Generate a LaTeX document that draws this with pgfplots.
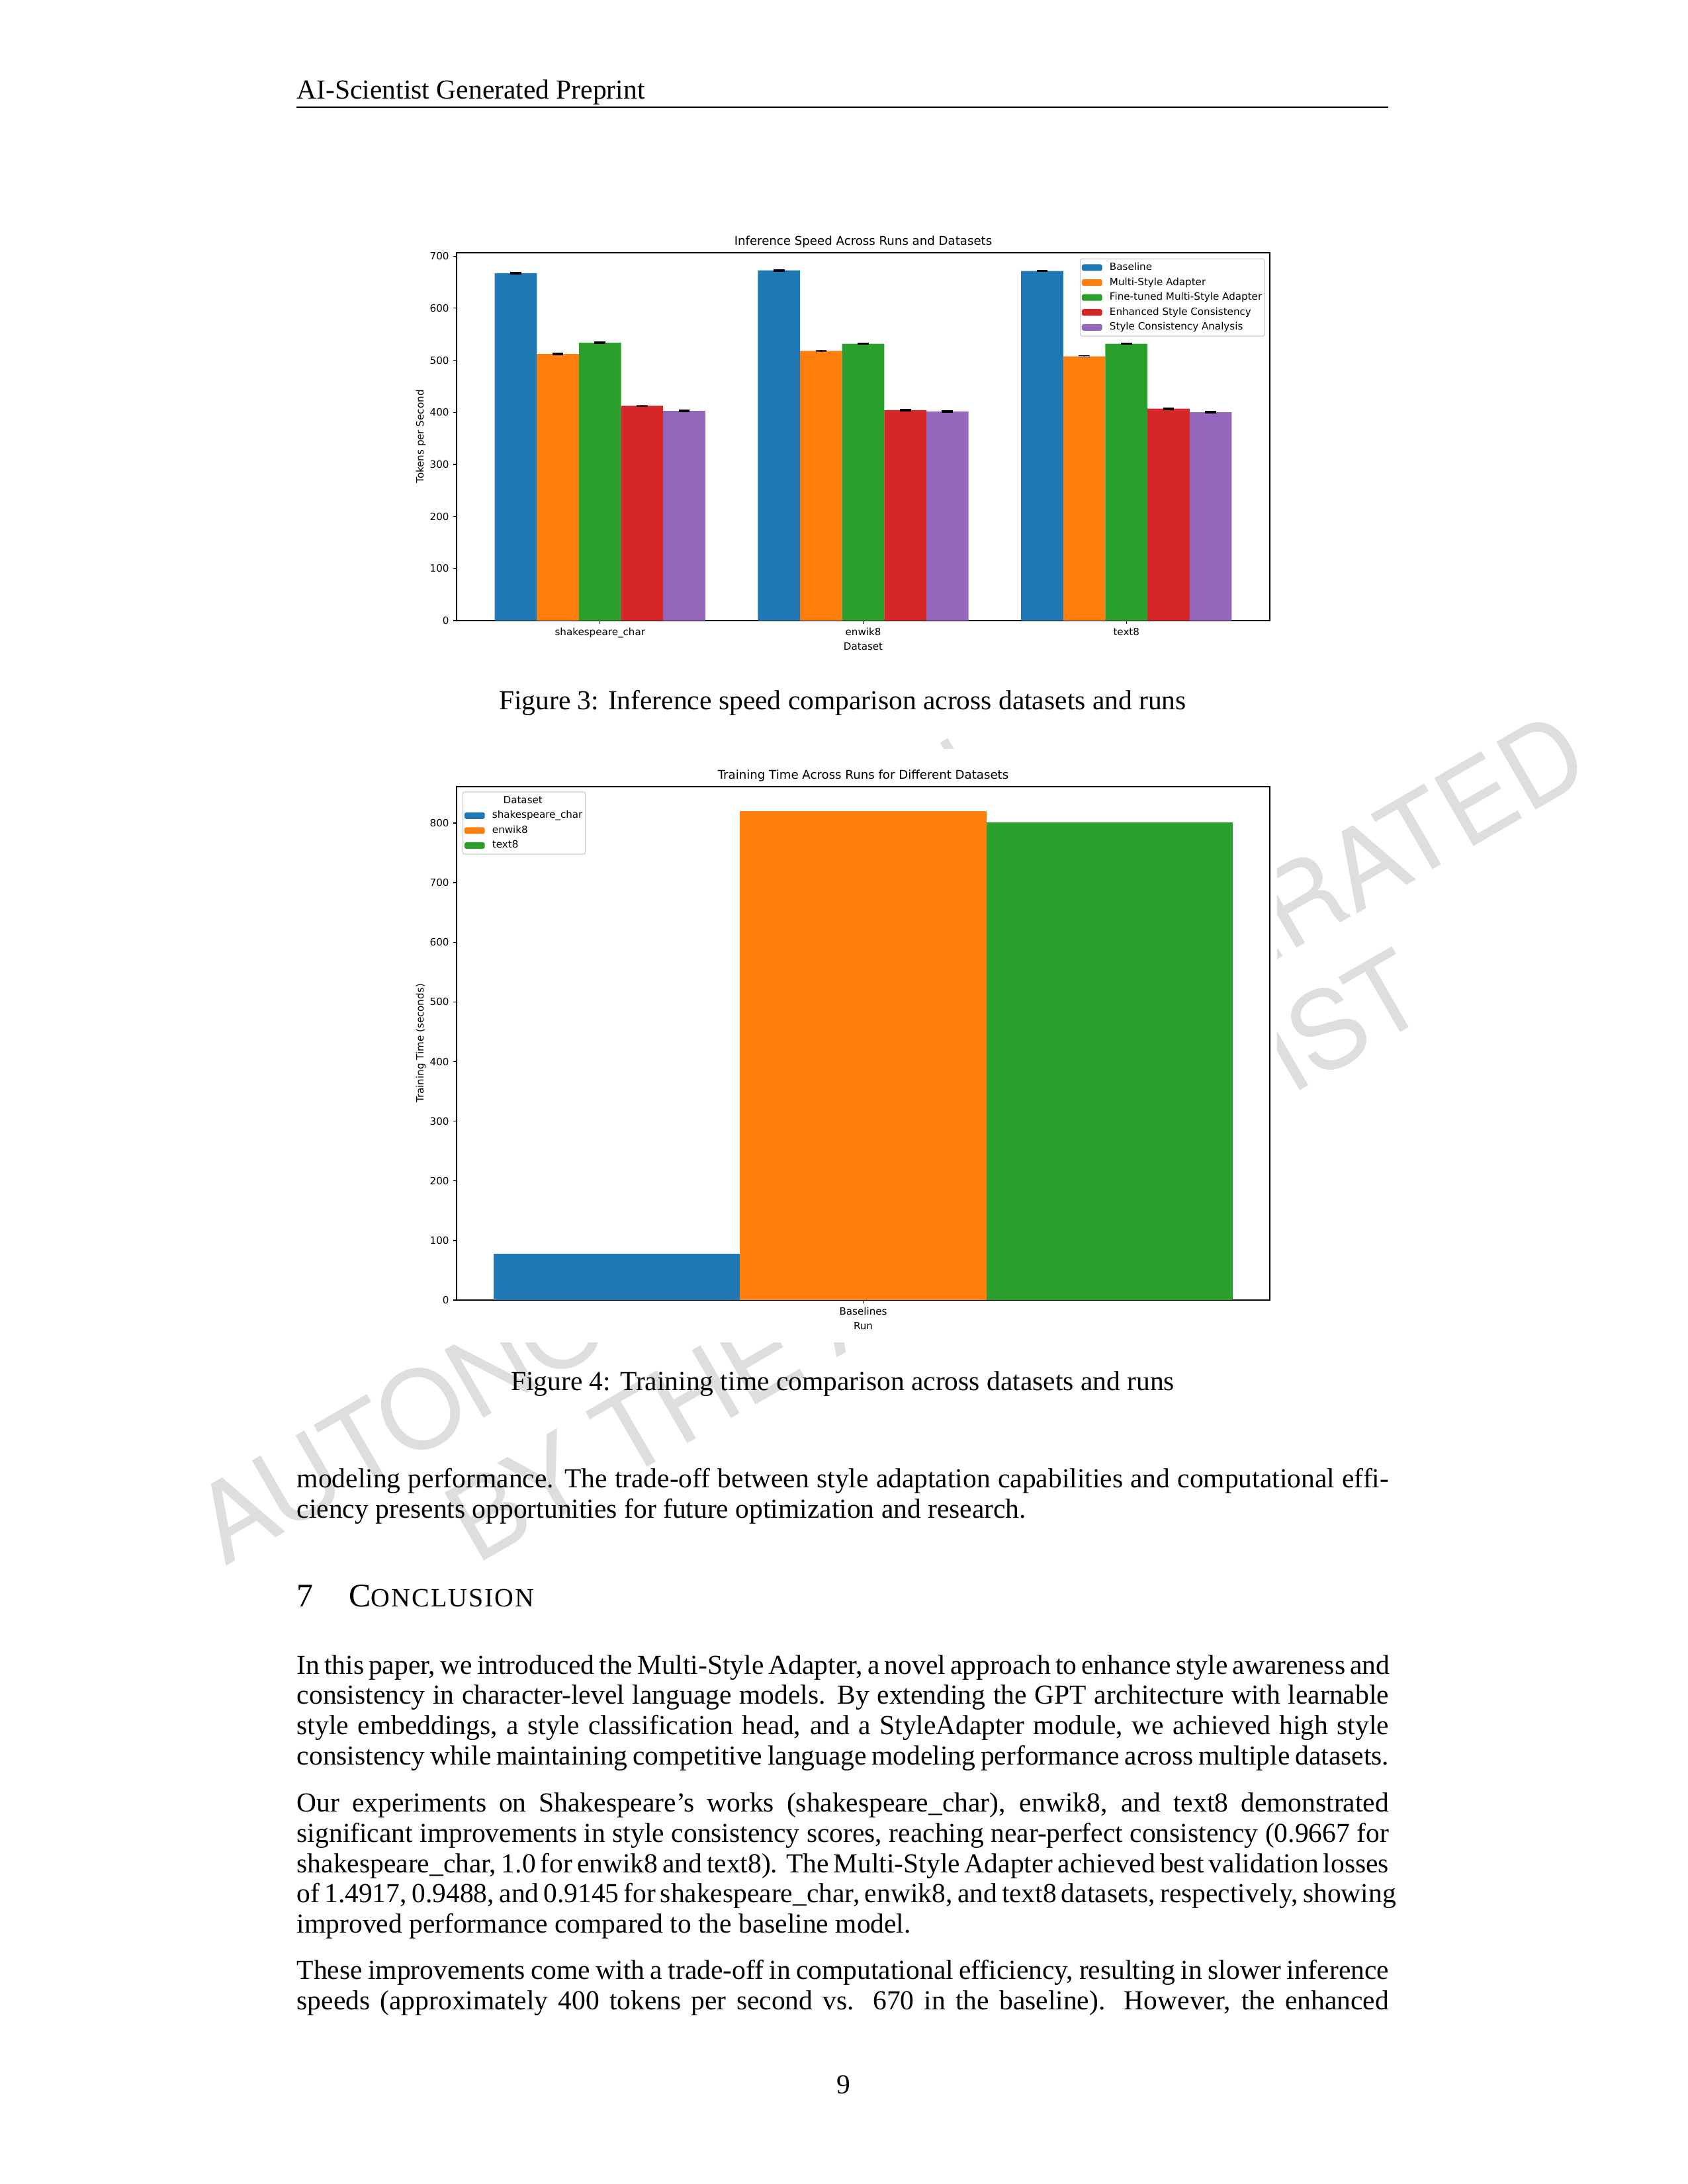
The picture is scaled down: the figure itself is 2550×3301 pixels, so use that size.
\documentclass[border=0pt]{standalone}
\usepackage{fontspec}
\setmainfont{Liberation Serif}
\newfontfamily\dvs{DejaVu Sans}
\newfontfamily\wmfont{TeX Gyre Heros}
\newfontfamily\scfont[LetterSpace=5]{Liberation Serif}
\usepackage{pgfplots}
\pgfplotsset{compat=1.18}
\definecolor{c1}{HTML}{1F77B4}
\definecolor{c2}{HTML}{FF7F0E}
\definecolor{c3}{HTML}{2CA02C}
\definecolor{c4}{HTML}{D62728}
\definecolor{c5}{HTML}{9467BD}
\definecolor{wm}{gray}{0.87}
\newcommand{\pf}{\dvs\fontsize{3.63bp}{4.4bp}\selectfont}
\newcommand{\tf}{\dvs\fontsize{4.36bp}{5.2bp}\selectfont}
\newcommand{\bodyf}{\fontsize{10pt}{11pt}\selectfont}
\newcommand{\wmf}{\wmfont\fontsize{39bp}{42bp}\selectfont}
\newcommand{\jl}[1]{\makebox[396bp][s]{#1}}
\pgfplotsset{
  mpl/.style={
    scale only axis, width=294.96bp,
    axis line style={line width=0.3bp},
    every tick/.style={black, line width=0.3bp},
    major tick length=1.27bp, tick align=outside, tick pos=left,
    ticklabel style={font=\pf},
    /pgf/number format/assume math mode=true,
    yticklabel style={inner sep=0pt, xshift=-1.27bp},
    xticklabel style={inner sep=0pt, yshift=-1.27bp},
    every axis title/.style={at={(axis description cs:0.5,1)}, anchor=base, yshift=2.8bp, font=\tf, inner sep=0pt},
    every axis x label/.style={at={(axis description cs:0.5,0)}, anchor=base, yshift=-10.56bp, font=\pf, inner sep=0pt},
    every axis y label/.style={at={(axis description cs:0,0.5)}, xshift=-12.96bp, rotate=90, anchor=center, font=\pf, inner sep=0pt},
    legend cell align=left,
    legend style={draw=black!20, line width=0.3bp, rounded corners=0.7bp, fill=white, font=\pf,
      inner xsep=0.6bp, inner ysep=1bp, row sep=1.12bp, column sep=2.3bp,
      nodes={inner sep=0.4bp, text height=2.7bp, text depth=0.8bp}},
    error bars/error bar style={draw=black, line width=0.4bp},
    error bars/error mark options={draw=black, rotate=90, mark size=2bp, line width=0.4bp},
  },
  pc/.style={legend image code/.code={\fill[#1] (0bp,-1.2bp) rectangle (7.4bp,1.2bp);}},
  b1/.style={ybar, bar width=0.16, bar shift=0pt, fill=#1, draw=none, pc=#1},
  b2/.style={ybar, bar width=0.26667, bar shift=0pt, fill=#1, draw=none, pc=#1},
}
\begin{document}
\begin{tikzpicture}
\begin{scope}[x=0.24bp,y=-0.24bp]
\path[fill=white] (0,0) rectangle (2550,3301);
% watermark
\node[rotate=30, anchor=base, inner sep=0, text=wm, font=\wmf] at (1135,1425) {CAUTION!!!};
\node[rotate=30, anchor=base, inner sep=0, text=wm, font=\wmf] at (1282,1608) {THIS PAPER WAS};
\node[rotate=30, anchor=base, inner sep=0, text=wm, font=\wmf] at (1375,1771) {AUTONOMOUSLY GENERATED};
\node[rotate=30, anchor=base, inner sep=0, text=wm, font=\wmf] at (1443,1949) {BY THE AI SCIENTIST};
% figure backgrounds
\fill[white] (585,340) rectangle (1930,1005);
\fill[white] (585,1132) rectangle (1930,2029);
\coordinate (A1) at (690,938);
\coordinate (A2) at (690,1965);
% header
\node[anchor=base west, inner sep=0, font=\bodyf] at (448,149.5) {AI-Scientist Generated Preprint};
\draw[line width=0.4pt] (448,162) -- (2098,162);
% captions
\node[anchor=base, inner sep=0, font=\bodyf] at (1273.5,1072) {Figure 3: Inference speed comparison across datasets and runs};
\node[anchor=base, inner sep=0, font=\bodyf] at (1273.5,2101) {Figure 4: Training time comparison across datasets and runs};
% body
\begin{scope}[every node/.style={anchor=base west, inner sep=0, font=\bodyf}]
\node at (448,2248) {\jl{modeling performance. The trade-off between style adaptation capabilities and computational effi-}};
\node at (448,2294) {ciency presents opportunities for future optimization and research.};
\node at (448,2428) {\fontsize{12pt}{14pt}\selectfont 7\hspace{13pt}C{\scfont\fontsize{9.6pt}{11pt}\selectfont ONCLUSION}};
\node at (448,2530) {\jl{In this paper, we introduced the Multi-Style Adapter, a novel approach to enhance style awareness and}};
\node at (448,2575.7) {\jl{consistency in character-level language models. By extending the GPT architecture with learnable}};
\node at (448,2621.4) {\jl{style embeddings, a style classification head, and a StyleAdapter module, we achieved high style}};
\node at (448,2667.1) {\jl{consistency while maintaining competitive language modeling performance across multiple datasets.}};
\node at (448,2738.6) {\jl{Our experiments on Shakespeare’s works (shakespeare\_char), enwik8, and text8 demonstrated}};
\node at (448,2784.3) {\jl{significant improvements in style consistency scores, reaching near-perfect consistency (0.9667 for}};
\node at (448,2830) {\jl{shakespeare\_char, 1.0 for enwik8 and text8). The Multi-Style Adapter achieved best validation losses}};
\node at (448,2875.7) {\jl{of 1.4917, 0.9488, and 0.9145 for shakespeare\_char, enwik8, and text8 datasets, respectively, showing}};
\node at (448,2921.4) {improved performance compared to the baseline model.};
\node at (448,2991.3) {\jl{These improvements come with a trade-off in computational efficiency, resulting in slower inference}};
\node at (448,3037) {\jl{speeds (approximately 400 tokens per second vs. 670 in the baseline). However, the enhanced}};
\end{scope}
\node[anchor=base, inner sep=0, font=\bodyf] at (1274.5,3164) {9};
\end{scope}

% Figure 3
\begin{axis}[mpl, at={(A1)}, anchor=south west, height=133.44bp,
  xmin=-0.545, xmax=2.545, ymin=0, ymax=706.6,
  xtick={0,1,2}, xticklabels={shakespeare\_char, enwik8, text8},
  ytick={0,100,...,700},
  title={Inference Speed Across Runs and Datasets},
  xlabel={Dataset}, ylabel={Tokens per Second},
  legend style={at={(1,1)}, anchor=north east, xshift=-1.7bp, yshift=-2.1bp}]
\addplot[b1=c1, error bars/.cd, y dir=both, y explicit] coordinates {(-0.32,667.4) +- (0,1.2) (0.68,672.6) +- (0,1.2) (1.68,671.4) +- (0,1.2)};
\addlegendentry{Baseline}
\addplot[b1=c2, error bars/.cd, y dir=both, y explicit] coordinates {(-0.16,512.0) +- (0,1.2) (0.84,518.0) +- (0,1.2) (1.84,507.6) +- (0,1.2)};
\addlegendentry{Multi-Style Adapter}
\addplot[b1=c3, error bars/.cd, y dir=both, y explicit] coordinates {(0,534.0) +- (0,1.2) (1,531.6) +- (0,1.2) (2,531.6) +- (0,1.2)};
\addlegendentry{Fine-tuned Multi-Style Adapter}
\addplot[b1=c4, error bars/.cd, y dir=both, y explicit] coordinates {(0.16,412.5) +- (0,1.2) (1.16,404.4) +- (0,1.2) (2.16,407.0) +- (0,1.2)};
\addlegendentry{Enhanced Style Consistency}
\addplot[b1=c5, error bars/.cd, y dir=both, y explicit] coordinates {(0.32,402.8) +- (0,1.2) (1.32,401.6) +- (0,1.2) (2.32,400.2) +- (0,1.2)};
\addlegendentry{Style Consistency Analysis}
\end{axis}

% Figure 4
\begin{axis}[mpl, at={(A2)}, anchor=south west, height=186.24bp,
  xmin=-0.44, xmax=0.44, ymin=0, ymax=861,
  xtick={0}, xticklabels={Baselines},
  ytick={0,100,...,800},
  title={Training Time Across Runs for Different Datasets},
  xlabel={Run}, ylabel={Training Time (seconds)},
  legend style={at={(0,1)}, anchor=north west, xshift=2.1bp, yshift=-1.8bp}]
\addlegendimage{empty legend}
\addlegendentry{\hspace*{4bp}Dataset}
\addplot[b2=c1] coordinates {(-0.26667,77.8)};
\addlegendentry{shakespeare\_char}
\addplot[b2=c2] coordinates {(0,820.0)};
\addlegendentry{enwik8}
\addplot[b2=c3] coordinates {(0.26667,801.4)};
\addlegendentry{text8}
\end{axis}
\end{tikzpicture}
\end{document}
